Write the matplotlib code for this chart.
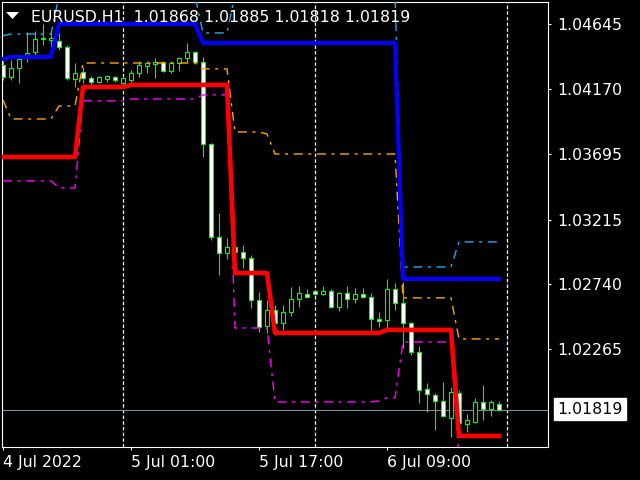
import matplotlib
matplotlib.use("Agg")
import matplotlib.pyplot as plt
from matplotlib.patches import Polygon
import pandas as pd

plt.rcParams['lines.scale_dashes'] = False
plt.rcParams['font.family'] = ['DejaVu Sans']

# EURUSD H1 bars, 4 Jul 2022 09:00 onwards
start = "2022-07-04 09:00"
opens = [1.04345, 1.04257, 1.04323, 1.04411, 1.04440, 1.04535, 1.04528, 1.04520, 1.04476, 1.04243,
         1.04294, 1.04250, 1.04221, 1.04243, 1.04257, 1.04213, 1.04235, 1.04286, 1.04338, 1.04352,
         1.04367, 1.04301, 1.04359, 1.04396, 1.04440, 1.04367, 1.03767, 1.03088, 1.02971, 1.03014,
         1.02978, 1.02934, 1.02627, 1.02437, 1.02554, 1.02459, 1.02539, 1.02634, 1.02671, 1.02693,
         1.02671, 1.02693, 1.02576, 1.02678, 1.02634, 1.02671, 1.02649, 1.02488, 1.02481, 1.02707,
         1.02605, 1.02459, 1.02247, 1.01976, 1.01933, 1.01889, 1.01764, 1.01947, 1.01721, 1.01735,
         1.01881, 1.01830, 1.01868]
highs = [1.04381, 1.04381, 1.04403, 1.04586, 1.04593, 1.04645, 1.04593, 1.04579, 1.04491, 1.04359,
         1.04330, 1.04264, 1.04264, 1.04272, 1.04264, 1.04264, 1.04308, 1.04374, 1.04374, 1.04396,
         1.04374, 1.04374, 1.04403, 1.04506, 1.04447, 1.04403, 1.03775, 1.03263, 1.03080, 1.03029,
         1.03029, 1.02956, 1.02685, 1.02627, 1.02590, 1.02590, 1.02722, 1.02729, 1.02707, 1.02700,
         1.02729, 1.02707, 1.02685, 1.02729, 1.02715, 1.02715, 1.02678, 1.02539, 1.02781, 1.02751,
         1.02759, 1.02466, 1.02291, 1.02020, 1.01947, 1.02028, 1.01991, 1.01969, 1.01794, 1.01911,
         1.02006, 1.01896, 1.01885]
lows = [1.04235, 1.04235, 1.04213, 1.04367, 1.04403, 1.04491, 1.04454, 1.04454, 1.04235, 1.04184,
        1.04213, 1.04199, 1.04213, 1.04221, 1.04221, 1.04199, 1.04213, 1.04257, 1.04286, 1.04250,
        1.04294, 1.04286, 1.04301, 1.04367, 1.04359, 1.03672, 1.03066, 1.02810, 1.02927, 1.02971,
        1.02861, 1.02569, 1.02393, 1.02386, 1.02371, 1.02408, 1.02510, 1.02576, 1.02642, 1.02664,
        1.02664, 1.02569, 1.02547, 1.02569, 1.02605, 1.02642, 1.02393, 1.02430, 1.02408, 1.02554,
        1.02276, 1.02225, 1.01874, 1.01808, 1.01677, 1.01772, 1.01626, 1.01713, 1.01662, 1.01728,
        1.01750, 1.01779, 1.01818]
closes = [1.04257, 1.04323, 1.04389, 1.04433, 1.04535, 1.04540, 1.04540, 1.04476, 1.04250, 1.04286,
          1.04250, 1.04221, 1.04257, 1.04264, 1.04235, 1.04250, 1.04286, 1.04345, 1.04359, 1.04367,
          1.04301, 1.04359, 1.04396, 1.04440, 1.04367, 1.03767, 1.03088, 1.02971, 1.03014, 1.02978,
          1.02934, 1.02627, 1.02430, 1.02554, 1.02459, 1.02539, 1.02634, 1.02678, 1.02649, 1.02671,
          1.02693, 1.02576, 1.02678, 1.02634, 1.02671, 1.02649, 1.02488, 1.02473, 1.02707, 1.02605,
          1.02459, 1.02247, 1.01969, 1.01940, 1.01889, 1.01779, 1.01954, 1.01728, 1.01750, 1.01881,
          1.01830, 1.01881, 1.01819]

# indicator buffers
upper = [1.04389, 1.04403, 1.04403, 1.04403, 1.04403, 1.04403, 1.04403, 1.04645, 1.04645, 1.04645,
         1.04645, 1.04645, 1.04645, 1.04645, 1.04645, 1.04645, 1.04645, 1.04645, 1.04645, 1.04645,
         1.04645, 1.04645, 1.04645, 1.04645, 1.04645, 1.04506, 1.04506, 1.04506, 1.04506, 1.04506,
         1.04506, 1.04506, 1.04506, 1.04506, 1.04506, 1.04506, 1.04506, 1.04506, 1.04506, 1.04506,
         1.04506, 1.04506, 1.04506, 1.04506, 1.04506, 1.04506, 1.04506, 1.04506, 1.04506, 1.04506,
         1.02781, 1.02781, 1.02781, 1.02781, 1.02781, 1.02781, 1.02781, 1.02781, 1.02781, 1.02781,
         1.02781, 1.02781, 1.02781]
lower = [1.03672, 1.03672, 1.03672, 1.03672, 1.03672, 1.03672, 1.03672, 1.03672, 1.03672, 1.03672,
         1.04184, 1.04184, 1.04184, 1.04184, 1.04184, 1.04184, 1.04199, 1.04199, 1.04199, 1.04199,
         1.04199, 1.04199, 1.04199, 1.04199, 1.04199, 1.04199, 1.04199, 1.04199, 1.04199, 1.02824,
         1.02824, 1.02824, 1.02824, 1.02824, 1.02386, 1.02386, 1.02386, 1.02386, 1.02386, 1.02386,
         1.02386, 1.02386, 1.02386, 1.02386, 1.02386, 1.02386, 1.02386, 1.02386, 1.02408, 1.02408,
         1.02408, 1.02408, 1.02408, 1.02408, 1.02408, 1.02408, 1.02408, 1.01633, 1.01633, 1.01633,
         1.01633, 1.01633, 1.01633]
upper_band = [1.04559, 1.04571, 1.04571, 1.04571, 1.04571, 1.04571, 1.04571, 1.04850, 1.04850, 1.04850,
              1.04850, 1.04850, 1.04850, 1.04850, 1.04850, 1.04850, 1.04850, 1.04850, 1.04850, 1.04850,
              1.04850, 1.04850, 1.04850, 1.04850, 1.04850, 1.04579, 1.04579, 1.04579, 1.04579, 1.04860,
              1.04860, 1.04860, 1.04860, 1.04860, 1.04860, 1.04860, 1.04860, 1.04860, 1.04860, 1.04860,
              1.04860, 1.04860, 1.04860, 1.04860, 1.04860, 1.04860, 1.04860, 1.04860, 1.04860, 1.04860,
              1.02868, 1.02868, 1.02868, 1.02868, 1.02868, 1.02868, 1.02868, 1.03051, 1.03051, 1.03051,
              1.03051, 1.03051, 1.03051]
mid_band = [1.04089, 1.03950, 1.03950, 1.03950, 1.03950, 1.03950, 1.03950, 1.04045, 1.04045, 1.04045,
            1.04359, 1.04359, 1.04359, 1.04359, 1.04359, 1.04359, 1.04359, 1.04359, 1.04359, 1.04359,
            1.04359, 1.04359, 1.04359, 1.04359, 1.04359, 1.04316, 1.04316, 1.04316, 1.04316, 1.03855,
            1.03855, 1.03855, 1.03855, 1.03840, 1.03694, 1.03694, 1.03694, 1.03694, 1.03694, 1.03694,
            1.03694, 1.03694, 1.03694, 1.03694, 1.03694, 1.03694, 1.03694, 1.03694, 1.03694, 1.03694,
            1.02642, 1.02642, 1.02642, 1.02642, 1.02642, 1.02642, 1.02642, 1.02342, 1.02342, 1.02342,
            1.02342, 1.02342, 1.02342]
lower_band = [1.03497, 1.03497, 1.03497, 1.03497, 1.03497, 1.03497, 1.03497, 1.03446, 1.03446, 1.03446,
              1.04082, 1.04082, 1.04082, 1.04082, 1.04082, 1.04082, 1.04096, 1.04096, 1.04096, 1.04096,
              1.04096, 1.04096, 1.04096, 1.04096, 1.04096, 1.04126, 1.04126, 1.04126, 1.04126, 1.02422,
              1.02422, 1.02422, 1.02422, 1.02422, 1.01881, 1.01881, 1.01881, 1.01881, 1.01881, 1.01881,
              1.01881, 1.01881, 1.01881, 1.01881, 1.01881, 1.01881, 1.01881, 1.01889, 1.01911, 1.01911,
              1.02320, 1.02320, 1.02320, 1.02320, 1.02320, 1.02320, 1.02320, 1.01450, 1.01450, 1.01450,
              1.01450, 1.01450, 1.01450]

price_ticks = [1.04645, 1.04170, 1.03695, 1.03215, 1.02740, 1.02265]
time_ticks = [0, 16, 32, 48]
header = "EURUSD.H1  1.01868 1.01885 1.01818 1.01819"

n = len(opens)
times = pd.date_range(start, periods=n + 6, freq="h")
x = list(range(n))
separators = [i for i, t in enumerate(times) if t.hour == 0]

fig = plt.figure(figsize=(6.4, 4.8), dpi=100, facecolor="black")
ax = fig.add_axes([2 / 640, 1 - 447 / 480, 546 / 640, 445 / 480])
ax.set_facecolor("black")
ax.set_xlim(-0.125, 68.125)
ax.set_ylim(1.01552, 1.04805)

# period separators and bid line
for s in separators:
    ax.axvline(s, color="white", lw=0.9, linestyle=(0, (2.5, 1.6)), zorder=1)
ax.axhline(closes[-1], color="#7b8899", lw=0.8, zorder=1)

# candles
ax.vlines(x, lows, highs, color="#00ff00", lw=0.8, zorder=2)
for i in range(n):
    o, c = opens[i], closes[i]
    fill = "white" if c < o else "black"
    ax.bar(i, max(abs(c - o), 1e-6), bottom=min(o, c), width=0.6,
           color=fill, edgecolor="#00ff00", linewidth=0.8, zorder=3)

dashdot = (0, (6.5, 4.0, 2.2, 4.0))
ax.plot(x, upper_band, color="#1eaaf0", lw=1.0, linestyle=dashdot, zorder=4)
ax.plot(x, mid_band, color="#ffa500", lw=1.0, linestyle=dashdot, zorder=4)
ax.plot(x, lower_band, color="#ff00ff", lw=1.0, linestyle=dashdot, zorder=4)
ax.plot(x, upper, color="#0000ff", lw=3.0, zorder=5)
ax.plot(x, lower, color="#ff0000", lw=3.3, zorder=5)

for sp in ax.spines.values():
    sp.set_color("white")
    sp.set_linewidth(0.8)

ax.yaxis.tick_right()
ax.set_yticks(price_ticks)
ax.set_yticklabels([f"{p:.5f}" for p in price_ticks])
ax.set_xticks(time_ticks)
labels = []
for i in time_ticks:
    t = times[i]
    if i == 0:
        labels.append(f"{t.day} {t.strftime('%b %Y')}")
    else:
        labels.append(f"{t.day} {t.strftime('%b %H:%M')}")
ax.set_xticklabels(labels, ha="left")
ax.tick_params(colors="white", labelcolor="white", labelsize=11.3, length=2.5, width=0.8)
ax.tick_params(axis="y", pad=4.5)
ax.tick_params(axis="x", pad=3)

# current price label
ax.annotate(f"{closes[-1]:.5f}", xy=(1, closes[-1]), xycoords=ax.get_yaxis_transform(),
            xytext=(6.5, 1), textcoords="offset points", va="center", ha="left",
            fontsize=11.3, color="black",
            bbox=dict(boxstyle="square,pad=0.22", facecolor="white", edgecolor="white"))

# header
fig.text(31 / 640, 1 - 17 / 480, header, color="white", fontsize=11.3, va="center", ha="left")
fig.add_artist(Polygon([[6, 480 - 12], [19, 480 - 12], [12.5, 480 - 19]], closed=True,
                       facecolor="white", edgecolor="none", transform=None))

fig.savefig("out.png", dpi=100, facecolor="black")
